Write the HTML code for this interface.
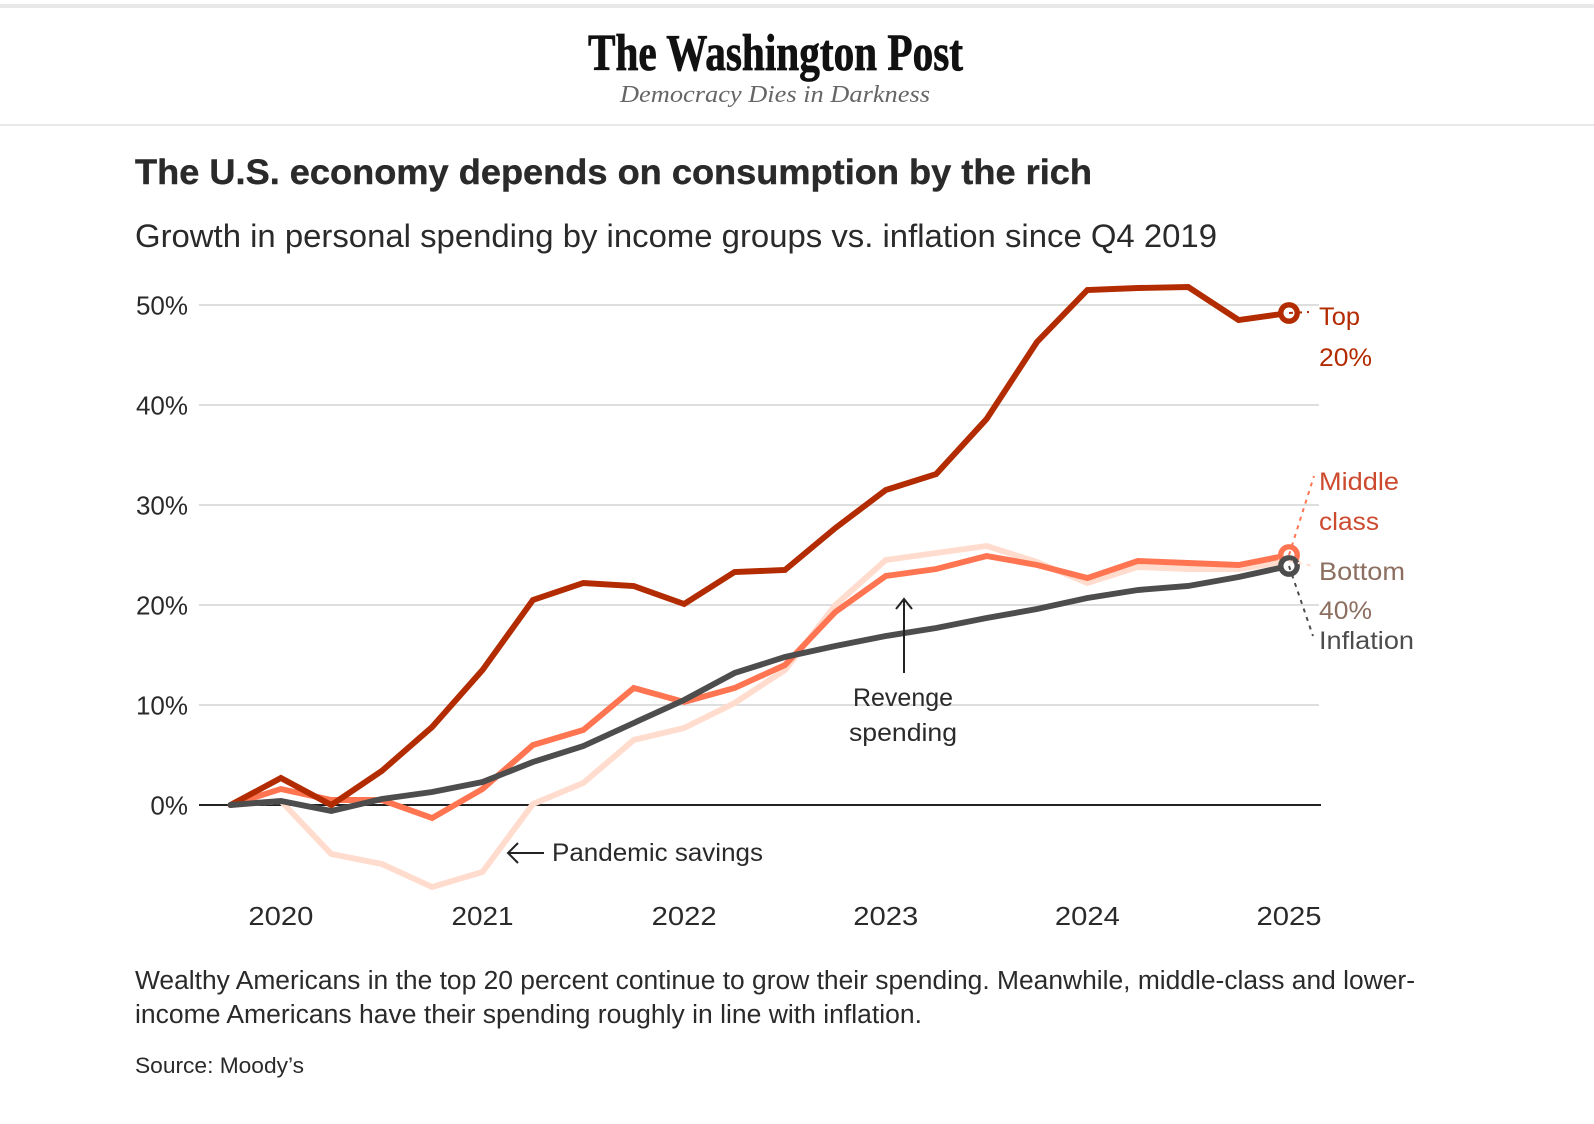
<!DOCTYPE html>
<html lang="en">
<head>
<meta charset="utf-8">
<title>The U.S. economy depends on consumption by the rich</title>
<style>
html,body{margin:0;padding:0;background:#fff;width:1594px;height:1124px;overflow:hidden}
svg{display:block}
text{font-family:"Liberation Sans",sans-serif;fill:#2a2a2a}
.serif{font-family:"Liberation Serif",serif}
.series{fill:none;stroke-width:5.9;stroke-linejoin:miter;stroke-linecap:round}
.leader{fill:none;stroke-width:2;stroke-dasharray:4 5}
.arrow{fill:none;stroke:#222;stroke-width:2}
</style>
</head>
<body>
<svg id="page" xmlns="http://www.w3.org/2000/svg" width="1594" height="1124" viewBox="0 0 1594 1124">
  <rect x="0" y="4" width="1594" height="4" fill="#e8e8e8"/>
  <text class="serif" x="588" y="70" font-size="52" font-weight="bold" textLength="375" lengthAdjust="spacingAndGlyphs" style="fill:#111;stroke:#111;stroke-width:.8">The Washington Post</text>
  <text class="serif" x="620" y="102" font-size="24" font-style="italic" textLength="310" lengthAdjust="spacingAndGlyphs" style="fill:#666">Democracy Dies in Darkness</text>
  <rect x="0" y="124" width="1594" height="2" fill="#e8e8e8"/>

  <text x="135" y="184" font-size="35" font-weight="bold" textLength="957" lengthAdjust="spacingAndGlyphs" style="stroke:#2a2a2a;stroke-width:.4">The U.S. economy depends on consumption by the rich</text>
  <text x="135" y="247" font-size="32" textLength="1082" lengthAdjust="spacingAndGlyphs">Growth in personal spending by income groups vs. inflation since Q4 2019</text>

  <g id="grid"></g>
  <g id="yticks"></g>
  <g id="xticks"></g>
  <g id="lines"></g>
  <g id="markers"></g>

  <g>
    <path class="arrow" d="M544 853H508M518 843L508 853L518 863"/>
    <text x="552" y="861" font-size="25" textLength="211" lengthAdjust="spacingAndGlyphs">Pandemic savings</text>
  </g>
  <g>
    <path class="arrow" d="M904 673V599M896 609L904 599L912 609"/>
    <text x="853" y="706" font-size="25" textLength="100" lengthAdjust="spacingAndGlyphs">Revenge</text>
    <text x="849" y="741" font-size="25" textLength="108" lengthAdjust="spacingAndGlyphs">spending</text>
  </g>

  <g font-size="25">
    <text x="1319" y="325" textLength="41" lengthAdjust="spacingAndGlyphs" style="fill:#b32b00">Top</text>
    <text x="1319" y="366" textLength="53" lengthAdjust="spacingAndGlyphs" style="fill:#b32b00">20%</text>
    <text x="1319" y="490" textLength="80" lengthAdjust="spacingAndGlyphs" style="fill:#cc4a2e">Middle</text>
    <text x="1319" y="530" textLength="60" lengthAdjust="spacingAndGlyphs" style="fill:#cc4a2e">class</text>
    <text x="1319" y="580" textLength="86" lengthAdjust="spacingAndGlyphs" style="fill:#8c6f60">Bottom</text>
    <text x="1319" y="619" textLength="53" lengthAdjust="spacingAndGlyphs" style="fill:#8c6f60">40%</text>
    <text x="1319" y="649" textLength="95" lengthAdjust="spacingAndGlyphs" style="fill:#4d4d4d">Inflation</text>
  </g>

  <text x="135" y="989" font-size="25.5" textLength="1280" lengthAdjust="spacingAndGlyphs">Wealthy Americans in the top 20 percent continue to grow their spending. Meanwhile, middle-class and lower-</text>
  <text x="135" y="1023" font-size="25.5" textLength="787" lengthAdjust="spacingAndGlyphs">income Americans have their spending roughly in line with inflation.</text>
  <text x="135" y="1073" font-size="22" textLength="169" lengthAdjust="spacingAndGlyphs">Source: Moody’s</text>
</svg>
<script>
const quarters = ["Q4 2019","Q1 2020","Q2 2020","Q3 2020","Q4 2020","Q1 2021","Q2 2021","Q3 2021","Q4 2021","Q1 2022","Q2 2022","Q3 2022","Q4 2022","Q1 2023","Q2 2023","Q3 2023","Q4 2023","Q1 2024","Q2 2024","Q3 2024","Q4 2024","Q1 2025"];
const top20 = [0,2.7,0,3.4,7.8,13.5,20.5,22.2,21.9,20.1,23.3,23.5,27.7,31.5,33.1,38.6,46.3,51.5,51.7,51.8,48.5,49.2];
const middleClass = [0,1.6,0.5,0.5,-1.3,1.6,6.0,7.5,11.7,10.3,11.7,14.0,19.3,22.9,23.6,24.9,24.0,22.7,24.4,24.2,24.0,25.0];
const bottom40 = [0,0.4,-4.9,-5.9,-8.2,-6.7,0.1,2.2,6.5,7.7,10.2,13.5,20.0,24.5,25.2,25.9,24.3,22.2,23.8,23.6,23.6,24.4];
const inflation = [0,0.4,-0.6,0.6,1.3,2.3,4.3,5.9,8.2,10.5,13.2,14.8,15.9,16.9,17.7,18.7,19.6,20.7,21.5,21.9,22.8,23.9];
const yTickValues = [0,10,20,30,40,50];
const yearLabels = ["2020","2021","2022","2023","2024","2025"];

const NS = "http://www.w3.org/2000/svg";
const xScale = i => 230.5 + (i * (1289 - 230.5)) / (quarters.length - 1);
const yScale = v => 805 - v * 10;
const make = tag => document.createElementNS(NS, tag);

const gridGroup = document.getElementById("grid");
const yTickGroup = document.getElementById("yticks");
yTickValues.forEach(v => {
  const line = make("rect");
  
  
  line.setAttribute("x", 199);
  line.setAttribute("y", yScale(v) - 1);
  line.setAttribute("width", v === 0 ? 1122 : 1120);
  line.setAttribute("height", 2);
  line.setAttribute("fill", v === 0 ? "#222" : "#dedede");
  gridGroup.appendChild(line);
  const label = make("text");
  
  
  label.setAttribute("x", 188);
  label.setAttribute("y", yScale(v) + 9.5);
  label.setAttribute("text-anchor", "end");
  label.setAttribute("font-size", 26);
  label.textContent = v + "%";
  yTickGroup.appendChild(label);
});

const xTickGroup = document.getElementById("xticks");
yearLabels.forEach(year => {
  const label = make("text");
  
  
  label.setAttribute("x", xScale(quarters.indexOf("Q1 " + year)));
  label.setAttribute("y", 925);
  label.setAttribute("text-anchor", "middle");
  label.setAttribute("font-size", 26);
  label.setAttribute("textLength", year.endsWith("1") ? 62 : 65);
  label.setAttribute("lengthAdjust", "spacingAndGlyphs");
  label.textContent = year;
  xTickGroup.appendChild(label);
});

const lineGroup = document.getElementById("lines");
const markerGroup = document.getElementById("markers");

function drawLine(values, color, name) {
  const path = make("path");
  
  
  path.setAttribute("class", "series");
  path.setAttribute("stroke", color);
  path.setAttribute("d", values.map((v, i) => (i ? "L" : "M") + xScale(i).toFixed(2) + " " + yScale(v).toFixed(2)).join(""));
  lineGroup.appendChild(path);
}
drawLine(bottom40, "#ffdccd", "bottom-40");
drawLine(middleClass, "#ff7552", "middle-class");
drawLine(top20, "#b32b00", "top-20");
drawLine(inflation, "#4d4d4d", "inflation");

function drawMarker(values, color, name) {
  const circle = make("circle");
  
  
  circle.setAttribute("cx", xScale(values.length - 1));
  circle.setAttribute("cy", yScale(values[values.length - 1]));
  circle.setAttribute("r", 8.2);
  circle.setAttribute("fill", "#fff");
  circle.setAttribute("stroke", color);
  circle.setAttribute("stroke-width", 5.4);
  markerGroup.appendChild(circle);
}
drawMarker(bottom40, "#ffdccd", "bottom-40");
drawMarker(middleClass, "#ff7552", "middle-class");
drawMarker(top20, "#b32b00", "top-20");
drawMarker(inflation, "#4d4d4d", "inflation");

function drawLeader(values, endX, endY, color, name) {
  const leader = make("line");
  
  
  leader.setAttribute("class", "leader");
  leader.setAttribute("x1", xScale(values.length - 1));
  leader.setAttribute("y1", yScale(values[values.length - 1]));
  leader.setAttribute("x2", endX);
  leader.setAttribute("y2", endY);
  leader.setAttribute("stroke", color);
  markerGroup.appendChild(leader);
}
drawLeader(top20, 1309, 312, "#b32b00", "top-20");
drawLeader(middleClass, 1314, 476, "#ff7552", "middle-class");
drawLeader(bottom40, 1313, 566, "#ffdccd", "bottom-40");
drawLeader(inflation, 1313, 636, "#4d4d4d", "inflation");
</script>
</body>
</html>
